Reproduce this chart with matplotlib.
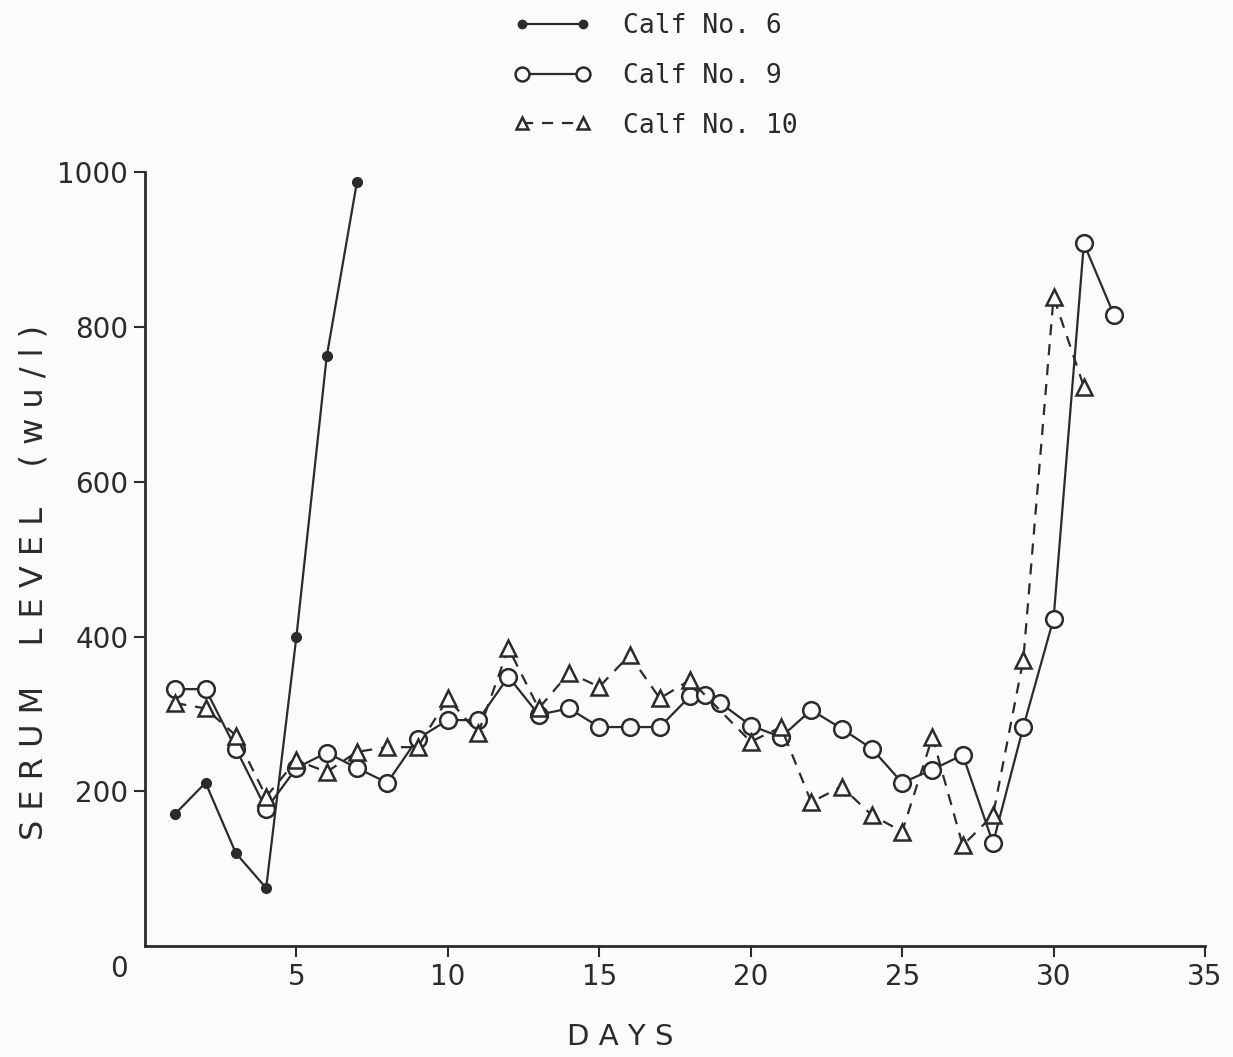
import matplotlib
matplotlib.use('Agg')
import matplotlib.pyplot as plt

# values (serum level, wu/l)
calf6_days = [1, 2, 3, 4, 5, 6, 7]
calf6_vals = [171, 211, 120, 75, 400, 762, 988]

calf9_days = [1, 2, 3, 4, 5, 6, 7, 8, 9, 10, 11, 12, 13, 14, 15, 16, 17, 18, 18.5,
              19, 20, 21, 22, 23, 24, 25, 26, 27, 28, 29, 30, 31, 32]
calf9_vals = [332, 332, 255, 177, 230, 250, 230, 211, 268, 292, 292, 348, 299, 307,
              283, 283, 283, 323, 325, 314, 285, 270, 305, 281, 255, 211, 228, 247,
              133, 283, 423, 908, 815]

calf10_days = [1, 2, 3, 4, 5, 6, 7, 8, 9, 10, 11, 12, 13, 14, 15, 16, 17, 18,
               20, 21, 22, 23, 24, 25, 26, 27, 28, 29, 30, 31]
calf10_vals = [314, 307, 272, 193, 240, 225, 251, 257, 257, 320, 275, 385, 307, 353,
               335, 376, 320, 344, 264, 283, 186, 206, 169, 148, 270, 130, 169, 370,
               839, 723]

x_ticks = [5, 10, 15, 20, 25, 30, 35]
y_ticks = [200, 400, 600, 800, 1000]

ink = '#2b2b2b'
paper = '#fbfbfb'

fig = plt.figure(figsize=(12.33, 10.57), dpi=100, facecolor=paper)
ax = fig.add_axes([0.1176, 0.105, 0.8597, 0.732])
ax.set_facecolor(paper)

ax.plot(calf6_days, calf6_vals, color=ink, lw=1.6, marker='o', ms=7,
        mfc=ink, mec=ink, label='Calf No. 6')
ax.plot(calf9_days, calf9_vals, color=ink, lw=1.6, marker='o', ms=12,
        mfc=paper, mec=ink, mew=1.8, label='Calf No. 9')
ax.plot(calf10_days, calf10_vals, color=ink, lw=1.6, ls=(0, (5, 4)), marker='^', ms=12,
        mfc=paper, mec=ink, mew=1.8, label='Calf No. 10')

ax.set_xlim(0, 35)
ax.set_ylim(0, 1000)
ax.set_xticks(x_ticks)
ax.set_yticks(y_ticks)
ax.tick_params(colors=ink, labelsize=20, width=1.5, length=8, pad=4)
for side in ['top', 'right']:
    ax.spines[side].set_visible(False)
for side in ['left', 'bottom']:
    ax.spines[side].set_color(ink)
    ax.spines[side].set_linewidth(2)

# shared origin label
ax.text(-0.55, -12, '0', ha='right', va='top', fontsize=20, color=ink)

ax.set_xlabel('D A Y S', fontsize=21, color=ink)
ax.xaxis.set_label_coords(0.448, -0.1)
ax.set_ylabel('S E R U M    L E V E L    ( w u / l )', fontsize=23, color=ink)
ax.yaxis.set_label_coords(-0.09, 0.47)

leg = ax.legend(loc='upper left', bbox_to_anchor=(0.398, 1.01), bbox_transform=fig.transFigure,
                frameon=False, numpoints=2, handlelength=2.9, handletextpad=1.2,
                labelspacing=0.9, prop={'family': 'DejaVu Sans Mono', 'size': 19})
for txt in leg.get_texts():
    txt.set_color(ink)
leg.legend_handles[0].set_markersize(6)
leg.legend_handles[1].set_markersize(10)
leg.legend_handles[2].set_markersize(9)

plt.savefig('out.png', dpi=100, facecolor=paper)
